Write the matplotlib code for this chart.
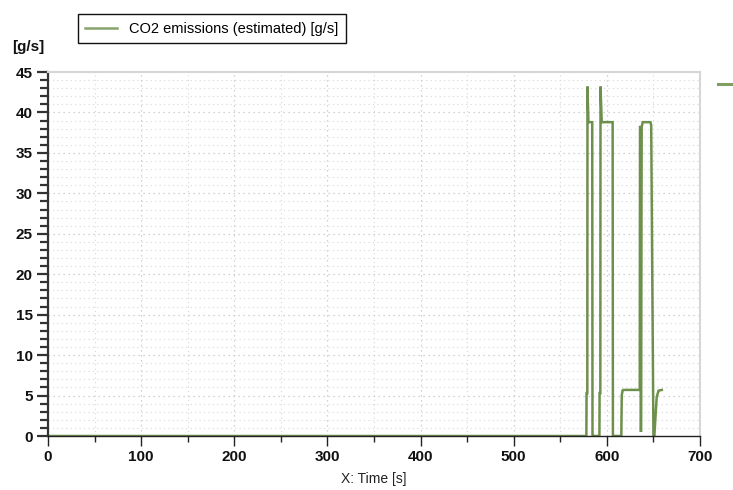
import matplotlib
matplotlib.use("Agg")
import matplotlib.pyplot as plt
from matplotlib.lines import Line2D
from matplotlib.ticker import MultipleLocator

# CO2 emissions trace (time [s], value [g/s])
time_s = [0, 578.0, 578.2, 579.0, 579.2, 580.2, 584.3, 584.6, 585.5,
          592.0, 592.2, 593.0, 593.2, 594.5, 606.2, 606.5, 615.5,
          616.0, 616.8, 617.6, 619.0, 635.3, 635.6, 636.3, 636.6,
          637.4, 638.5, 646.8, 647.6, 650.0, 651.0, 652.3, 653.5,
          655.5, 659.0]
co2_gps = [0, 0, 5.3, 5.3, 43.2, 38.8, 38.8, 0, 0,
           0, 5.3, 5.3, 43.2, 38.8, 38.8, 0, 0,
           5.0, 5.6, 5.7, 5.7, 5.7, 38.2, 38.2, 0.5,
           38.2, 38.8, 38.8, 38.4, 0, 0, 2.5, 4.8,
           5.6, 5.7]

xticks = [0, 100, 200, 300, 400, 500, 600, 700]
yticks = [0, 5, 10, 15, 20, 25, 30, 35, 40, 45]

LINE = "#557d2e"
TICKFONT = "Liberation Sans"

fig = plt.figure(figsize=(7.33, 4.9), dpi=100)
ax = fig.add_axes([48 / 733, 54 / 490, 652 / 733, 364 / 490])

ax.plot(time_s, co2_gps, color=LINE, lw=1.8, alpha=0.85,
        solid_joinstyle="miter", label="CO2 emissions (estimated) [g/s]")

ax.set_xlim(0, 700)
ax.set_ylim(0, 45)
ax.set_xticks(xticks)
ax.set_yticks(yticks)
ax.xaxis.set_minor_locator(MultipleLocator(50))
ax.yaxis.set_minor_locator(MultipleLocator(1))
ax.grid(which="major", color="#c4c4c4", ls=(0, (1, 3)), lw=0.9)
ax.grid(which="minor", color="#d8d8d8", ls=(0, (1, 3)), lw=0.8)
ax.set_axisbelow(True)

for s in ("top", "right"):
    ax.spines[s].set_color("#d6d6d6")
    ax.spines[s].set_linewidth(1.5)
ax.spines["left"].set_color("#333333")
ax.spines["left"].set_linewidth(1.6)
ax.spines["bottom"].set_color("#222222")
ax.spines["bottom"].set_linewidth(1.0)

ax.tick_params(axis="y", which="major", direction="out", length=8, width=1.6,
               color="#333333", pad=3)
ax.tick_params(axis="y", which="minor", direction="out", length=6, width=1.6,
               color="#333333")
ax.tick_params(axis="x", which="major", direction="out", length=7, width=1,
               color="#222222", pad=3)
ax.tick_params(axis="x", which="minor", direction="out", length=4, width=1,
               color="#222222")
for lab in ax.get_xticklabels() + ax.get_yticklabels():
    lab.set_fontfamily(TICKFONT)
    lab.set_fontweight("bold")
    lab.set_fontsize(11)
    lab.set_color("#111111")

ax.set_xlabel("X: Time [s]", fontsize=10, fontfamily=TICKFONT,
              color="#222222", labelpad=6)
fig.text(12 / 733, 1 - 47 / 490, "[g/s]", fontsize=11, fontweight="bold",
         fontfamily=TICKFONT, color="#111111", va="center", ha="left")

leg = ax.legend(loc="lower left", bbox_to_anchor=(78 / 733, 1 - 43 / 490),
                bbox_transform=fig.transFigure, fancybox=False,
                prop={"family": TICKFONT, "size": 10.5}, handlelength=2.2,
                borderpad=0.5, borderaxespad=0, framealpha=1)
leg.get_frame().set_edgecolor("#111111")
leg.get_frame().set_linewidth(1.0)
for h in leg.get_lines():
    h.set_alpha(0.7)

# clipped legend sample of a second plot at the right edge
fig.add_artist(Line2D([718 / 733, 1.0], [1 - 84 / 490, 1 - 84 / 490],
                      transform=fig.transFigure, color=LINE, lw=2.2,
                      alpha=0.75))

fig.savefig("out.png", dpi=100)
